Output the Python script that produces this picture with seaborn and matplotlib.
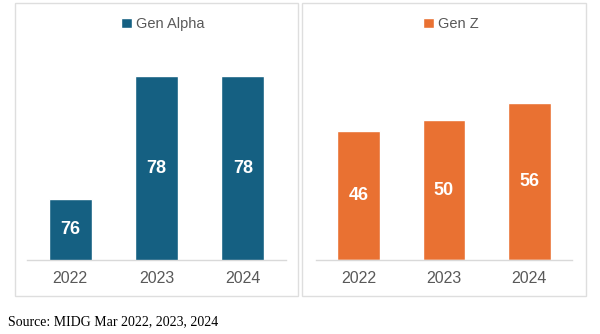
import matplotlib
matplotlib.use("Agg")
import matplotlib.pyplot as plt
from matplotlib.patches import Patch, Rectangle
import seaborn as sns
import pandas as pd

years = ["2022", "2023", "2024"]
gen_alpha = [76, 78, 78]
gen_z = [46, 50, 56]
series_names = ["Gen Alpha", "Gen Z"]
series_colors = ["#156082", "#E97132"]
source_note = "Source: MIDG Mar 2022, 2023, 2024"

sns.set_theme(style="white")
plt.rcParams["font.family"] = ["Liberation Sans", "DejaVu Sans"]

W, H = 600, 334
fig = plt.figure(figsize=(W / 100, H / 100), dpi=100)
fig.patch.set_facecolor("white")


def fx(px):
    return px / W


def fy(py):
    return 1 - py / H


# light frames around each panel
for x0, x1 in [(15, 298), (302, 586)]:
    fig.patches.append(Rectangle((fx(x0), fy(296)), fx(x1 - x0), (296 - 3) / H,
                                 transform=fig.transFigure, fill=False,
                                 edgecolor="#dedede", linewidth=1.0))

panels = [
    dict(values=gen_alpha, name=series_names[0], color=series_colors[0],
         rect=(27, 286), ylim=(75, 78.59), legend_x=163),
    dict(values=gen_z, name=series_names[1], color=series_colors[1],
         rect=(316, 572), ylim=(0, 78.6), legend_x=451),
]

for p in panels:
    x0, x1 = p["rect"]
    ax = fig.add_axes([fx(x0), fy(260), fx(x1 - x0), 220 / H])
    df = pd.DataFrame({"year": years, "value": p["values"]})
    sns.barplot(data=df, x="year", y="value", color=p["color"], width=0.5,
                saturation=1, ax=ax)
    lo, hi = p["ylim"]
    ax.set_ylim(lo, hi)
    ax.set_xlim(-0.5, len(years) - 0.5)
    ax.set_xlabel("")
    ax.set_ylabel("")
    ax.set_yticks([])
    for side in ["top", "right", "left"]:
        ax.spines[side].set_visible(False)
    ax.spines["bottom"].set_color("#d9d9d9")
    ax.spines["bottom"].set_linewidth(1.0)
    ax.tick_params(axis="x", length=0, pad=8, labelsize=11.5, labelcolor="#595959")
    ax.set_facecolor("none")
    for i, v in enumerate(p["values"]):
        ax.text(i, (lo + v) / 2, str(v), ha="center", va="center",
                color="white", fontweight="bold", fontsize=13)
    ax.legend(handles=[Patch(facecolor=p["color"], label=p["name"])],
              loc="center", bbox_to_anchor=(fx(p["legend_x"]), fy(24)),
              bbox_transform=fig.transFigure, frameon=False,
              handlelength=0.75, handleheight=0.75, handletextpad=0.25,
              fontsize=10.5, labelcolor="#595959", borderpad=0)

fig.text(fx(8), fy(322), source_note, ha="left", va="center",
         family=["Liberation Serif", "DejaVu Serif"], fontsize=10, color="black")

fig.savefig("out.png", dpi=100, facecolor="white")
